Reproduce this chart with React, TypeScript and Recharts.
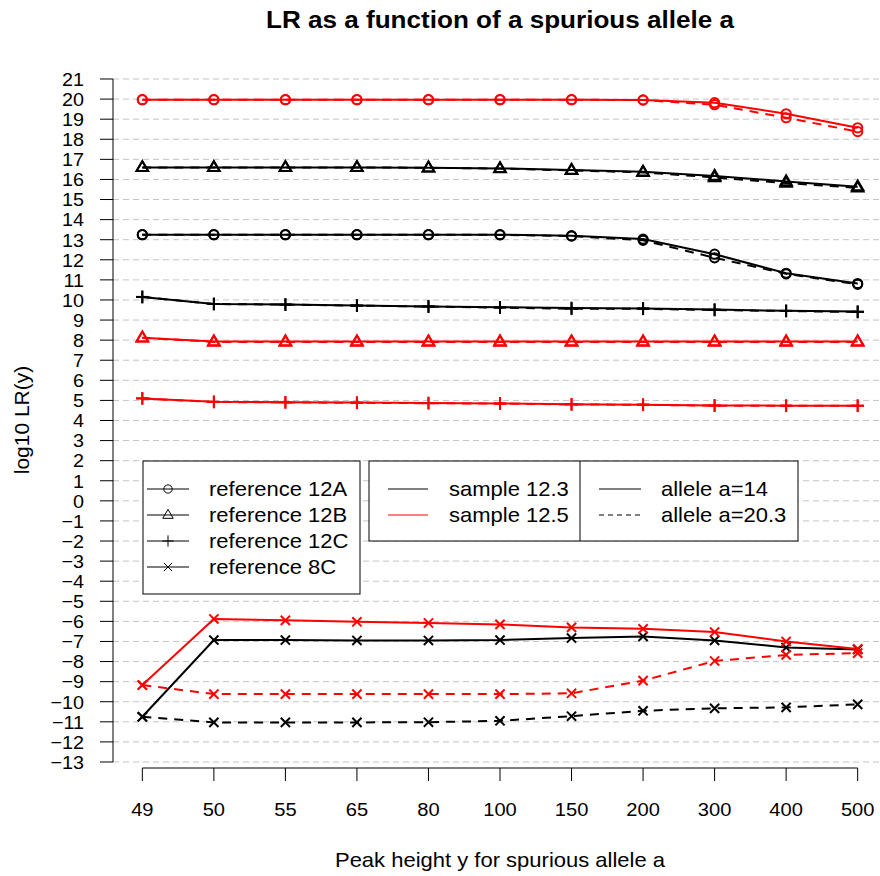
import { LineChart, Line, XAxis, YAxis, ReferenceLine } from 'recharts';

// peak height of the spurious allele (categorical x axis)
const peakHeights = ['49', '50', '55', '65', '80', '100', '150', '200', '300', '400', '500'];
const yTicks = Array.from({ length: 35 }, (_, k) => k - 13);

// sample 12.3 (black)
const s123_12A_a14 = [13.25, 13.25, 13.25, 13.25, 13.25, 13.25, 13.2, 13.03, 12.28, 11.33, 10.82];
const s123_12A_a203 = [13.25, 13.25, 13.25, 13.25, 13.25, 13.24, 13.18, 12.97, 12.1, 11.3, 10.78];
const s123_12B_a14 = [16.6, 16.6, 16.6, 16.6, 16.58, 16.55, 16.47, 16.38, 16.17, 15.9, 15.64];
const s123_12B_a203 = [16.6, 16.6, 16.6, 16.6, 16.58, 16.54, 16.45, 16.35, 16.1, 15.82, 15.58];
const s123_12C_a14 = [10.15, 9.8, 9.77, 9.72, 9.68, 9.64, 9.6, 9.58, 9.52, 9.46, 9.42];
const s123_12C_a203 = [10.15, 9.8, 9.77, 9.72, 9.67, 9.62, 9.56, 9.56, 9.5, 9.45, 9.4];
const s123_8C_a14 = [-10.75, -6.93, -6.93, -6.95, -6.95, -6.93, -6.83, -6.75, -6.95, -7.3, -7.4];
const s123_8C_a203 = [-10.75, -11.03, -11.03, -11.03, -11.02, -10.95, -10.72, -10.45, -10.33, -10.28, -10.13];

// sample 12.5 (red)
const s125_12A_a14 = [19.97, 19.97, 19.97, 19.97, 19.97, 19.97, 19.97, 19.96, 19.82, 19.27, 18.57];
const s125_12A_a203 = [19.97, 19.97, 19.97, 19.97, 19.97, 19.97, 19.97, 19.95, 19.72, 19.07, 18.38];
const s125_12B_a14 = [8.12, 7.93, 7.93, 7.93, 7.93, 7.93, 7.93, 7.93, 7.93, 7.93, 7.93];
const s125_12B_a203 = [8.12, 7.91, 7.91, 7.91, 7.91, 7.91, 7.91, 7.91, 7.91, 7.91, 7.91];
const s125_12C_a14 = [5.1, 4.93, 4.91, 4.89, 4.87, 4.85, 4.81, 4.79, 4.75, 4.74, 4.74];
const s125_12C_a203 = [5.1, 4.92, 4.9, 4.88, 4.86, 4.84, 4.8, 4.78, 4.74, 4.73, 4.73];
const s125_8C_a14 = [-9.17, -5.88, -5.95, -6.02, -6.08, -6.15, -6.3, -6.37, -6.53, -7.0, -7.37];
const s125_8C_a203 = [-9.17, -9.62, -9.62, -9.62, -9.62, -9.62, -9.58, -8.95, -7.97, -7.67, -7.58];

type Shape = 'circle' | 'triangle' | 'plus' | 'cross';

const series: { key: string; values: number[]; color: string; dashed: boolean; shape: Shape }[] = [
  { key: 's123_12A_a14', values: s123_12A_a14, color: '#000000', dashed: false, shape: 'circle' },
  { key: 's123_12A_a203', values: s123_12A_a203, color: '#000000', dashed: true, shape: 'circle' },
  { key: 's123_12B_a14', values: s123_12B_a14, color: '#000000', dashed: false, shape: 'triangle' },
  { key: 's123_12B_a203', values: s123_12B_a203, color: '#000000', dashed: true, shape: 'triangle' },
  { key: 's123_12C_a14', values: s123_12C_a14, color: '#000000', dashed: false, shape: 'plus' },
  { key: 's123_12C_a203', values: s123_12C_a203, color: '#000000', dashed: true, shape: 'plus' },
  { key: 's123_8C_a14', values: s123_8C_a14, color: '#000000', dashed: false, shape: 'cross' },
  { key: 's123_8C_a203', values: s123_8C_a203, color: '#000000', dashed: true, shape: 'cross' },
  { key: 's125_12A_a14', values: s125_12A_a14, color: '#ff0000', dashed: false, shape: 'circle' },
  { key: 's125_12A_a203', values: s125_12A_a203, color: '#ff0000', dashed: true, shape: 'circle' },
  { key: 's125_12B_a14', values: s125_12B_a14, color: '#ff0000', dashed: false, shape: 'triangle' },
  { key: 's125_12B_a203', values: s125_12B_a203, color: '#ff0000', dashed: true, shape: 'triangle' },
  { key: 's125_12C_a14', values: s125_12C_a14, color: '#ff0000', dashed: false, shape: 'plus' },
  { key: 's125_12C_a203', values: s125_12C_a203, color: '#ff0000', dashed: true, shape: 'plus' },
  { key: 's125_8C_a14', values: s125_8C_a14, color: '#ff0000', dashed: false, shape: 'cross' },
  { key: 's125_8C_a203', values: s125_8C_a203, color: '#ff0000', dashed: true, shape: 'cross' },
];

const rows = peakHeights.map((label, i) => {
  const row: Record<string, number | string> = { i, label };
  series.forEach(s => { row[s.key] = s.values[i]; });
  return row;
});

// text drawn a little wider than Liberation Sans, like the R device font
function WText({ x, y, anchor = 'start', size = 20, sx = 1.1, bold = false, children }: any) {
  return (
    <text
      transform={`translate(${x},${y}) scale(${sx},1)`}
      x={0}
      y={0}
      textAnchor={anchor}
      fontSize={size}
      fontWeight={bold ? 'bold' : 'normal'}
      fill="#000"
    >
      {children}
    </text>
  );
}

function Marker({ cx, cy, shape, color, k = 1, sw = 2 }: { cx: number; cy: number; shape: Shape; color: string; k?: number; sw?: number }) {
  if (cx == null || cy == null) return null;
  if (shape === 'circle') {
    return <circle cx={cx} cy={cy} r={4.6 * k} fill="none" stroke={color} strokeWidth={sw} />;
  }
  if (shape === 'triangle') {
    const pts = `${cx},${cy - 6.2 * k} ${cx - 5.8 * k},${cy + 3.7 * k} ${cx + 5.8 * k},${cy + 3.7 * k}`;
    return <polygon points={pts} fill="none" stroke={color} strokeWidth={sw} />;
  }
  if (shape === 'plus') {
    const r = 6.3 * k;
    return (
      <g stroke={color} strokeWidth={sw}>
        <line x1={cx - r} y1={cy} x2={cx + r} y2={cy} />
        <line x1={cx} y1={cy - r} x2={cx} y2={cy + r} />
      </g>
    );
  }
  const r = 4.6 * k;
  return (
    <g stroke={color} strokeWidth={sw}>
      <line x1={cx - r} y1={cy - r} x2={cx + r} y2={cy + r} />
      <line x1={cx - r} y1={cy + r} x2={cx + r} y2={cy - r} />
    </g>
  );
}

const refRows: { label: string; shape: Shape }[] = [
  { label: 'reference 12A', shape: 'circle' },
  { label: 'reference 12B', shape: 'triangle' },
  { label: 'reference 12C', shape: 'plus' },
  { label: 'reference 8C', shape: 'cross' },
];

const fmtY = (v: number) => (v < 0 ? `\u2212${-v}` : `${v}`);

export default function App() {
  return (
    <div style={{ position: 'relative', width: 880, height: 876, overflow: 'hidden', background: '#fff', fontFamily: '"Liberation Sans", Arial, sans-serif' }}>
      <style>{`body{margin:0}`}</style>
      <LineChart width={887} height={876} data={rows} margin={{ top: 52, right: 0, bottom: 0, left: 0 }}>
        <XAxis
          dataKey="i"
          type="number"
          domain={[-0.41, 10.41]}
          ticks={peakHeights.map((_, i) => i)}
          interval={0}
          height={108}
          axisLine={false}
          tickSize={13}
          tickMargin={21}
          tickLine={{ stroke: '#000' }}
          tick={(p: any) => (
            <WText key={`xt-${p.index}`} x={p.x} y={p.y + 13.5} anchor="middle" size={19} sx={1.06}>
              {peakHeights[p.payload.value]}
            </WText>
          )}
          allowDataOverflow
        />
        <YAxis
          type="number"
          domain={[-13.299, 22.344]}
          ticks={yTicks}
          interval={0}
          width={113}
          axisLine={false}
          tickSize={13}
          tickMargin={16}
          tickLine={{ stroke: '#000' }}
          tick={(p: any) => (
            <WText key={`yt-${p.index}`} x={p.x} y={p.y + 6.8} anchor="end" size={19} sx={1.04}>
              {fmtY(p.payload.value)}
            </WText>
          )}
          allowDataOverflow
        />
        {yTicks.map(v => (
          <ReferenceLine key={`g${v}`} y={v} stroke="#c4c4c4" strokeWidth={1} strokeDasharray="6 4" />
        ))}
        <ReferenceLine segment={[{ x: -0.41, y: -13 }, { x: -0.41, y: 21 }]} stroke="#000" strokeWidth={1} ifOverflow="visible" />
        <ReferenceLine segment={[{ x: 0, y: -13.299 }, { x: 10, y: -13.299 }]} stroke="#000" strokeWidth={1} ifOverflow="visible" />
        {series.map(s => (
          <Line
            key={s.key}
            dataKey={s.key}
            type="linear"
            stroke={s.color}
            strokeWidth={2}
            strokeDasharray={s.dashed ? '9 7' : undefined}
            dot={(p: any) => <Marker key={`${s.key}-${p.index}`} cx={p.cx} cy={p.cy} shape={s.shape} color={s.color} />}
            activeDot={false}
            isAnimationActive={false}
          />
        ))}
      </LineChart>
      <svg width={880} height={876} style={{ position: 'absolute', left: 0, top: 0, pointerEvents: 'none' }}>
        <WText x={500} y={28} anchor="middle" size={23.3} sx={1.12} bold>
          LR as a function of a spurious allele a
        </WText>
        <WText x={500} y={867} anchor="middle" size={20} sx={1.1}>
          Peak height y for spurious allele a
        </WText>
        <g transform="translate(29 420) rotate(-90)">
          <WText x={0} y={0} anchor="middle" size={20} sx={1.05}>
            log10 LR(y)
          </WText>
        </g>

        <rect x={143} y={461} width={217} height={133} fill="#fff" stroke="#000" strokeWidth={1} />
        {refRows.map((r, j) => {
          const y = 489 + j * 26;
          return (
            <g key={r.label}>
              <line x1={147} y1={y} x2={189} y2={y} stroke="#000" strokeWidth={1} />
              <Marker cx={168} cy={y} shape={r.shape} color="#000" k={0.9} sw={1} />
              <WText x={209} y={y + 7} size={20} sx={1.1}>{r.label}</WText>
            </g>
          );
        })}

        <rect x={369} y={461} width={429} height={80} fill="#fff" stroke="#000" strokeWidth={1} />
        <line x1={580} y1={461} x2={580} y2={541} stroke="#000" strokeWidth={1} />
        <line x1={388} y1={489} x2={428} y2={489} stroke="#000" strokeWidth={1} />
        <WText x={449} y={496} size={20} sx={1.1}>sample 12.3</WText>
        <line x1={388} y1={515} x2={428} y2={515} stroke="#ff0000" strokeWidth={1} />
        <WText x={449} y={522} size={20} sx={1.1}>sample 12.5</WText>

        <line x1={599} y1={489} x2={641} y2={489} stroke="#000" strokeWidth={1} />
        <WText x={661} y={496} size={20} sx={1.1}>allele a=14</WText>
        <line x1={599} y1={515} x2={641} y2={515} stroke="#000" strokeWidth={1} strokeDasharray="5 4" />
        <WText x={661} y={522} size={20} sx={1.1}>allele a=20.3</WText>
      </svg>
    </div>
  );
}
